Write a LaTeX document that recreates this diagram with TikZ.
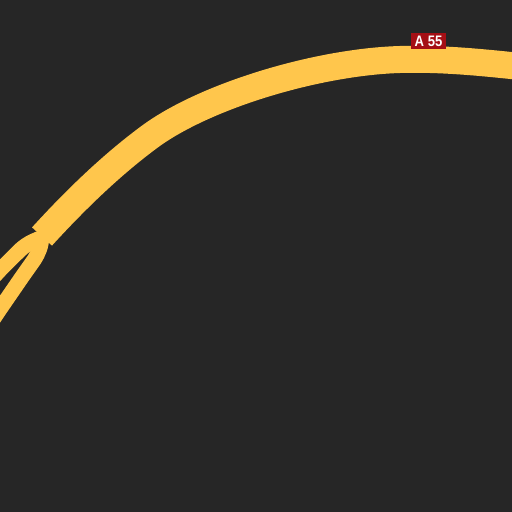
\documentclass[tikz,border=0pt]{standalone}
\usepackage{fontspec}
\newfontfamily\shieldfont[FakeStretch=0.86]{Liberation Sans}
\newdimen\punit \punit=0.5pt
\tikzset{
  road/.style={draw=roadc,line cap=butt,line join=round},
  shield/.style={fill=shieldc,text=white,font=\shieldfont\bfseries\fontsize{7.6}{9}\selectfont,inner sep=0pt,minimum width=35\punit,minimum height=16\punit}
}
\definecolor{bgc}{HTML}{262626}
\definecolor{roadc}{HTML}{FFC64C}
\definecolor{shieldc}{HTML}{A50F15}
\begin{document}
\begin{tikzpicture}[x=0.5pt,y=-0.5pt]
\fill[bgc] (0,0) rectangle (512,512);
\useasboundingbox (0,0) rectangle (512,512);
\clip (0,0) rectangle (512,512);
% branches
\draw[road,line width=7.6pt] (-12,283) -- (0,270) -- (16,254) .. controls (22,248) and (28,242) .. (44,237);
\draw[road,line width=7.6pt] (-8,321) -- (0,309) -- (22,277) -- (34,260) .. controls (39,252) and (41,247) .. (42,236);
% main carriageway
\draw[road,line width=13.5pt] (42,236.5) .. controls (78,197) and (114,163) .. (150,136.5)
  .. controls (205,96) and (317,62) .. (400,59.5)
  .. controls (441.7,58.3) and (483,62.5) .. (525,67);
\node[shield] (a55) at (428.5,41) {A 55};
\end{tikzpicture}
\end{document}
